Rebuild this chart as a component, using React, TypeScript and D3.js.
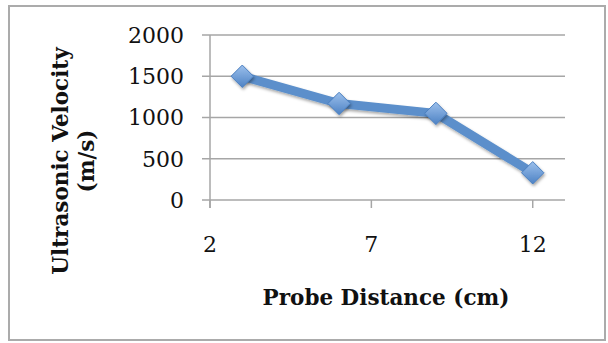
import React from "react";
import * as d3 from "d3";

const xValues = [3, 6, 9, 12];
const yValues = [1500, 1170, 1050, 330];
const yTicks = [0, 500, 1000, 1500, 2000];
const xTicks = [2, 7, 12];
const xTitle = "Probe Distance (cm)";
const yTitleLines = ["Ultrasonic Velocity", "(m/s)"];

export default function App() {
  const W = 608, H = 343;
  const x = d3.scaleLinear().domain([2, 13]).range([210, 565]);
  const y = d3.scaleLinear().domain([0, 2000]).range([200, 35]);
  const pts = xValues.map((v, i) => [x(v), y(yValues[i])] as [number, number]);
  const line = d3.line()(pts) || "";
  const sym = d3.symbol().type(d3.symbolDiamond2).size(320)() || "";
  const font = "'DejaVu Serif', serif";
  return (
    <svg width={W} height={H} style={{ position: "absolute", left: 0, top: 0 }}>
      <defs>
        <linearGradient id="mk" x1="0" y1="0" x2="0" y2="1">
          <stop offset="0%" stopColor="#9cc0ec" />
          <stop offset="100%" stopColor="#4d82c4" />
        </linearGradient>
        <filter id="sh" x="-50%" y="-50%" width="200%" height="200%">
          <feDropShadow dx="1" dy="2" stdDeviation="1.5" floodColor="#000" floodOpacity="0.35" />
        </filter>
      </defs>
      <rect x={0} y={0} width={W} height={H} fill="#fff" />
      <rect x={9} y={6} width={596} height={334} fill="#fff" stroke="#ababab" strokeWidth={2} />
      {yTicks.map((t) => (
        <g key={t}>
          <line x1={202} x2={565} y1={y(t)} y2={y(t)} stroke="#a6a6a6" strokeWidth={1.5} />
          <text x={184} y={y(t)} dy="0.36em" textAnchor="end" fontFamily={font} fontSize={22} fill="#111">
            {t}
          </text>
        </g>
      ))}
      <line x1={210} x2={210} y1={35} y2={208} stroke="#a6a6a6" strokeWidth={1.5} />
      {xTicks.map((t) => (
        <g key={t}>
          <line x1={x(t)} x2={x(t)} y1={200} y2={208} stroke="#a6a6a6" strokeWidth={1.5} />
          <text x={x(t)} y={252} textAnchor="middle" fontFamily={font} fontSize={22} fill="#111">
            {t}
          </text>
        </g>
      ))}
      <path d={line} fill="none" stroke="#5b8fcb" strokeWidth={9} strokeLinejoin="round" filter="url(#sh)" />
      {pts.map((p, i) => (
        <path key={i} d={sym} transform={`translate(${p[0]},${p[1]})`} fill="url(#mk)" stroke="#4a7fc0" strokeWidth={1} filter="url(#sh)" />
      ))}
      <text x={386} y={305} textAnchor="middle" fontFamily={font} fontWeight="bold" fontSize={21.5} fill="#111">
        {xTitle}
      </text>
      <g transform="translate(68,161) rotate(-90)">
        <text x={0} y={0} textAnchor="middle" fontFamily={font} fontWeight="bold" fontSize={21.5} fill="#111">
          {yTitleLines[0]}
        </text>
        <text x={0} y={26} textAnchor="middle" fontFamily={font} fontWeight="bold" fontSize={21.5} fill="#111">
          {yTitleLines[1]}
        </text>
      </g>
    </svg>
  );
}
